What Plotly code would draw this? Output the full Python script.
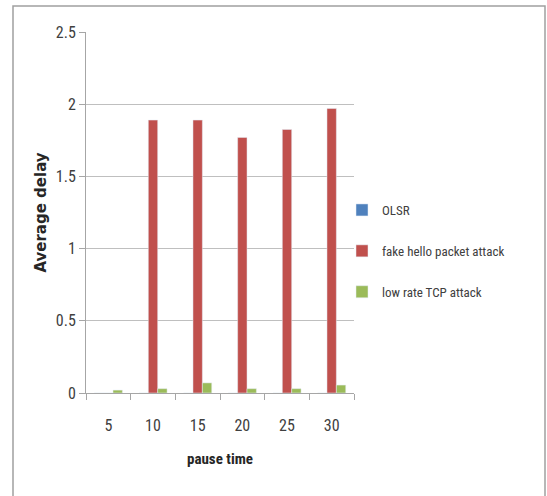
import plotly.graph_objects as go

categories = ["5", "10", "15", "20", "25", "30"]
olsr = [0, 0, 0, 0, 0, 0]
fake_hello = [0, 1.89, 1.89, 1.77, 1.825, 1.97]
low_rate_tcp = [0.02, 0.03, 0.07, 0.03, 0.03, 0.055]
y_ticks = [0, 0.5, 1, 1.5, 2, 2.5]
y_tick_labels = ["0", "0.5", "1", "1.5", "2", "2.5"]

FONT = "Liberation Sans Narrow, Roboto Condensed, Arial Narrow, Roboto, sans-serif"

fig = go.Figure()
fig.add_trace(go.Bar(x=categories, y=olsr, name="OLSR", marker_color="#4f81bd", legendgroup="a"))
fig.add_trace(go.Bar(x=categories, y=fake_hello, name="fake hello packet attack", marker_color="#c0504d", legendgroup="b"))
fig.add_trace(go.Bar(x=categories, y=low_rate_tcp, name="low rate TCP attack", marker_color="#9bbb59", legendgroup="c"))

L, R, T, B = 86, 193, 32, 103
W, H = 547, 496
pw, ph = W - L - R, H - T - B

fig.update_layout(
    width=W, height=H,
    margin=dict(l=L, r=R, t=T, b=B, autoexpand=False),
    paper_bgcolor="white", plot_bgcolor="white",
    barmode="group", bargap=0.37, bargroupgap=0,
    font=dict(family=FONT, size=14, color="#404040"),
    showlegend=True,
    legend=dict(x=(342 - L) / pw, y=1 - (195 - T) / ph, xanchor="left", yanchor="top",
                font=dict(family=FONT, size=13, color="#404040"),
                tracegroupgap=21, itemwidth=30, bgcolor="rgba(0,0,0,0)"),
    xaxis=dict(type="category", showline=True, linecolor="#a6a6a6", linewidth=1,
               ticks="outside", tickson="boundaries", ticklen=6, tickcolor="#a6a6a6",
               ticklabelstandoff=18, tickfont=dict(family=FONT, size=16, color="#404040"),
               title=dict(text="<b>pause time</b>", font=dict(family=FONT, size=15, color="#262626"), standoff=19),
               showgrid=False, zeroline=False),
    yaxis=dict(range=[0, 2.5], tickvals=y_ticks, ticktext=y_tick_labels,
               showline=True, linecolor="#a6a6a6", linewidth=1,
               ticks="outside", ticklen=6, tickcolor="#a6a6a6",
               showgrid=True, gridcolor="#bfbfbf", gridwidth=1, zeroline=False,
               tickfont=dict(family=FONT, size=16, color="#404040"),
               title=dict(text="<b>Average delay</b>", font=dict(family="DejaVu Sans, sans-serif", size=15, color="#262626"), standoff=5)),
)

fig.add_shape(type="rect", xref="paper", yref="paper",
              x0=(13 - L) / pw, x1=(545 - L) / pw,
              y0=(H - B - 505) / ph, y1=1 + (T - 6) / ph,
              line=dict(color="#a0a0a0", width=1.5), fillcolor="rgba(0,0,0,0)", layer="below")

fig.write_html("out.html")
